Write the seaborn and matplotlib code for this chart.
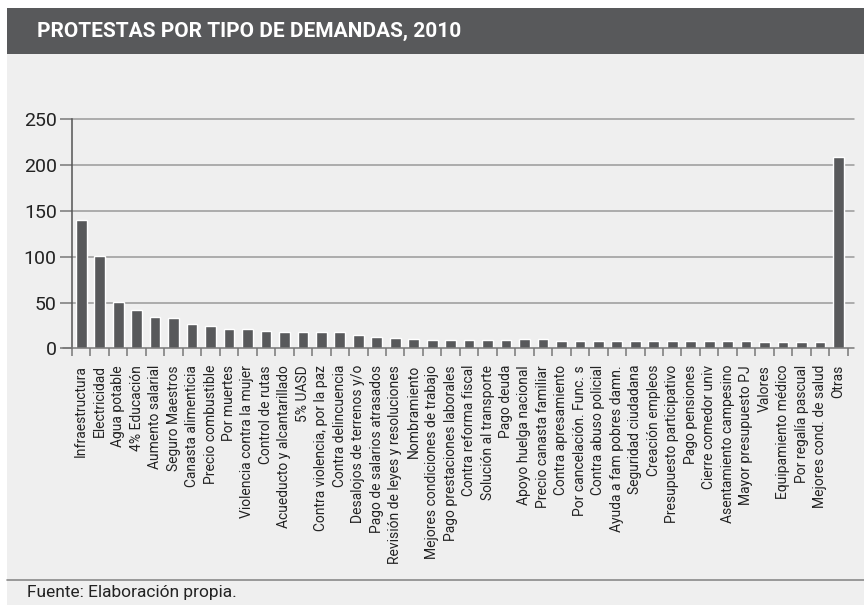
import matplotlib
matplotlib.use("Agg")
import matplotlib.pyplot as plt
import seaborn as sns
import pandas as pd
import numpy as np
from matplotlib.patches import Rectangle
from matplotlib.lines import Line2D

categories = [
    "Infraestructura", "Electricidad", "Agua potable", "4% Educación",
    "Aumento salarial", "Seguro Maestros", "Canasta alimenticia",
    "Precio combustible", "Por muertes", "Violencia contra la mujer",
    "Control de rutas", "Acueducto y alcantarillado", "5% UASD",
    "Contra violencia, por la paz", "Contra delincuencia",
    "Desalojos de terrenos y/o", "Pago de salarios atrasados",
    "Revisión de leyes y resoluciones", "Nombramiento",
    "Mejores condiciones de trabajo", "Pago prestaciones laborales",
    "Contra reforma fiscal", "Solución al transporte", "Pago deuda",
    "Apoyo huelga nacional", "Precio canasta familiar",
    "Contra apresamiento", "Por cancelación. Func. s",
    "Contra abuso policial", "Ayuda a fam pobres damn.",
    "Seguridad ciudadana", "Creación empleos", "Presupuesto participativo",
    "Pago pensiones", "Cierre comedor univ", "Asentamiento campesino",
    "Mayor presupuesto PJ", "Valores", "Equipamiento médico",
    "Por regalía pascual", "Mejores cond. de salud", "Otras",
]
values = [140, 101, 51, 42, 34, 33, 27, 24, 21, 21, 19, 18, 18, 18, 18,
          15, 12, 11, 10, 9, 9, 9, 9, 9, 10, 10, 8, 8, 8, 8, 8, 8, 8, 8,
          8, 8, 8, 7, 7, 7, 7, 209]
y_ticks = [0, 50, 100, 150, 200, 250]
title = "PROTESTAS POR TIPO DE DEMANDAS, 2010"
source = "Fuente: Elaboración propia."

sns.set_theme(style="white")
FONT = ["Liberation Sans Narrow", "Roboto", "DejaVu Sans"]
plt.rcParams["font.family"] = FONT

DARK = "#58595b"
PANEL = "#efefef"
GRID = "#9a9a9a"

W, H = 864, 605
fig = plt.figure(figsize=(W / 100, H / 100), dpi=100)
fig.patch.set_facecolor("white")

# panel background
fig.patches.append(Rectangle((7 / W, 0), 1 - 7 / W, 1 - 8 / H,
                             transform=fig.transFigure, facecolor=PANEL,
                             edgecolor="none", zorder=-10))
# title bar
fig.patches.append(Rectangle((7 / W, 1 - 54 / H), 1 - 7 / W, 46 / H,
                             transform=fig.transFigure, facecolor=DARK,
                             edgecolor="none", zorder=-9))
fig.text(37 / W, 1 - 31 / H, title, color="white", fontsize=15,
         fontweight="bold", va="center", ha="left")
# footer line & text
fig.lines.append(Line2D([7 / W, 1], [1 - 580 / H, 1 - 580 / H],
                        transform=fig.transFigure, color="#8a8a8a", lw=1.2))
fig.text(27 / W, 1 - 593 / H, source, color="#222222", fontsize=12.5,
         va="center", ha="left")

ax = fig.add_axes([72 / W, 1 - 348.3 / H, (847.7 - 72) / W, (348.3 - 119.3) / H])
ax.set_facecolor("none")

df = pd.DataFrame({"cat": categories, "val": values})
sns.barplot(data=df, x="cat", y="val", order=categories, color=DARK,
            saturation=1, width=0.58, ax=ax, zorder=3)

ax.set_xlim(-0.5, len(categories) - 0.5)
ax.set_ylim(0, 250)
ax.set_yticks(y_ticks)
ax.set_yticklabels([str(v) for v in y_ticks], fontsize=14, color="#222222")
ax.set_xlabel("")
ax.set_ylabel("")

# gridlines extending slightly past the last bar
for v in y_ticks[1:]:
    ax.plot([0, 1.008], [v, v], transform=ax.get_yaxis_transform(),
            color=GRID, lw=1.1, zorder=1, clip_on=False)
ax.plot([-0.012, 1.008], [0, 0], transform=ax.get_yaxis_transform(),
        color="#777777", lw=1.1, zorder=4, clip_on=False)

for s in ["top", "right", "bottom"]:
    ax.spines[s].set_visible(False)
ax.spines["left"].set_color("#555555")
ax.spines["left"].set_linewidth(1.1)

ax.tick_params(axis="y", which="major", length=9, width=1.1,
               color="#777777", pad=2, left=True)
ax.set_xticks(np.arange(len(categories)))
ax.set_xticklabels(categories, rotation=90, fontsize=10, color="#222222",
                   ha="center", va="top")
ax.tick_params(axis="x", which="major", length=0, pad=12)
ax.set_xticks(np.arange(-0.5, len(categories)), minor=True)
ax.tick_params(axis="x", which="minor", length=6, width=1.1,
               color="#777777", bottom=True)

fig.savefig("out.png", dpi=100, facecolor=fig.get_facecolor())
